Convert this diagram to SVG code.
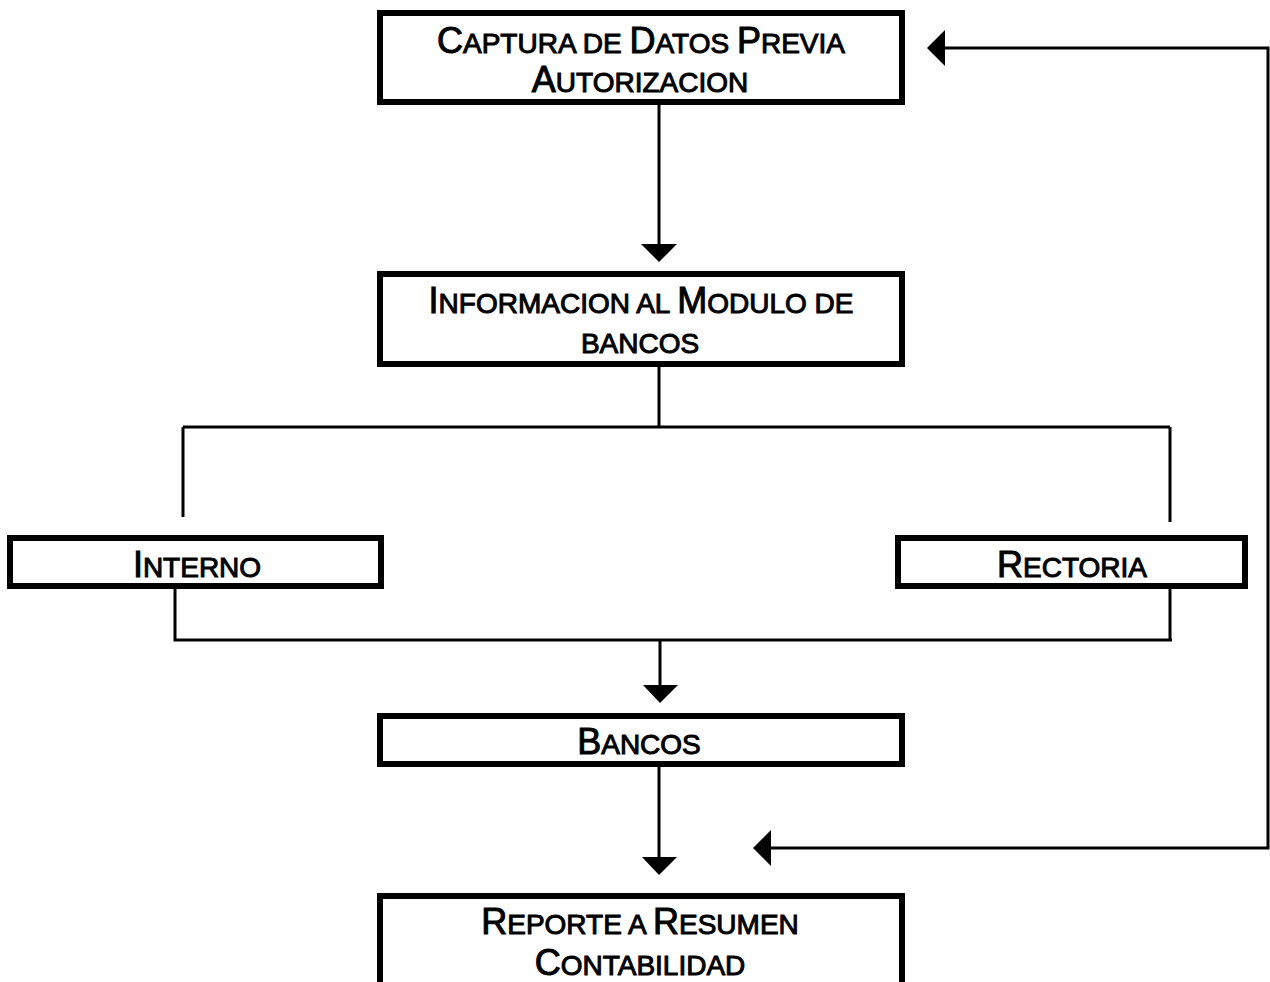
<svg xmlns="http://www.w3.org/2000/svg" width="1270" height="982" viewBox="0 0 1270 982">
<style>
.box{fill:#fff;stroke:#000;stroke-width:6}
.t{font-family:"Liberation Sans",Arial,sans-serif;font-size:28px;fill:#000;text-anchor:middle;stroke:#000;stroke-width:1}
.b{font-size:36px}
.ln{fill:none;stroke:#000;stroke-width:3}
.ah{fill:#000}
</style>
<rect width="1270" height="982" fill="#fff"/>
<g id="connectors">
<path class="ln" d="M659 105V246"/>
<polygon class="ah" points="641,244 677,244 659,262"/>
<path class="ln" d="M659 367V427M183 427H1170M183 427V517M1170 427V522"/>
<path class="ln" d="M175 589V640H1172M1170 589V640M660 640V686"/>
<polygon class="ah" points="643,685 678,685 660,703"/>
<path class="ln" d="M659 767V858"/>
<polygon class="ah" points="642,857 677,857 659,875"/>
<path class="ln" d="M943 48H1268V848H770"/>
<polygon class="ah" points="927,48 945,30 945,66"/>
<polygon class="ah" points="753,848 771,830 771,866"/>
</g>
<g id="n1">
<rect class="box" x="380" y="13" width="522" height="89"/>
<text class="t" x="641" y="53"><tspan class="b">C</tspan>APTURA DE <tspan class="b">D</tspan>ATOS <tspan class="b">P</tspan>REVIA</text>
<text class="t" x="640" y="92"><tspan class="b">A</tspan>UTORIZACION</text>
</g>
<g id="n2">
<rect class="box" x="380" y="274" width="522" height="90"/>
<text class="t" x="641" y="313"><tspan class="b">I</tspan>NFORMACION AL <tspan class="b">M</tspan>ODULO DE</text>
<text class="t" x="640" y="353">BANCOS</text>
</g>
<g id="n3">
<rect class="box" x="10" y="538" width="371" height="48"/>
<text class="t" x="197" y="577"><tspan class="b">I</tspan>NTERNO</text>
</g>
<g id="n4">
<rect class="box" x="898" y="538" width="347" height="48"/>
<text class="t" x="1072" y="577"><tspan class="b">R</tspan>ECTORIA</text>
</g>
<g id="n5">
<rect class="box" x="380" y="716" width="522" height="48"/>
<text class="t" x="639" y="754"><tspan class="b">B</tspan>ANCOS</text>
</g>
<g id="n6">
<rect class="box" x="380" y="896" width="522" height="100"/>
<text class="t" x="640" y="934"><tspan class="b">R</tspan>EPORTE A <tspan class="b">R</tspan>ESUMEN</text>
<text class="t" x="640" y="975"><tspan class="b">C</tspan>ONTABILIDAD</text>
</g>
</svg>
